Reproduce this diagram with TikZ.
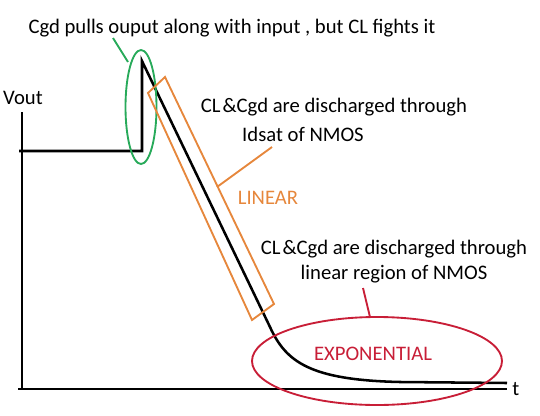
\documentclass[tikz,border=0pt]{standalone}
\usepackage{fontspec}
\setmainfont{Carlito}
\usetikzlibrary{shapes.geometric}
\definecolor{cgreen}{RGB}{40,170,90}
\definecolor{corange}{RGB}{230,135,60}
\definecolor{cred}{RGB}{200,30,55}
\begin{document}
\begin{tikzpicture}[x=0.75pt,y=-0.75pt,
  txt/.style={font=\fontsize{15.5}{18.75}\selectfont, inner sep=0pt, text=black},
  blk/.style={draw=black, line width=1.9pt},
  gline/.style={draw=cgreen, line width=1.4pt},
  oline/.style={draw=corange, line width=1.4pt},
  rline/.style={draw=cred, line width=1.4pt}]
\useasboundingbox (0,0) rectangle (540,415);
% axes
\coordinate (ytop) at (22,112);
\coordinate (ybot) at (22,390);
\coordinate (xl) at (18,389);
\coordinate (xr) at (507,389);
\draw[blk] (ytop) -- (ybot);
\draw[blk] (xl) -- (xr);
\node[txt, anchor=west] (t) at (512,389) {t};
\node[txt] (vout) at (23,98) {Vout};
% signal
\coordinate (s0) at (19,151);
\coordinate (s1) at (142,151);
\coordinate (s2) at (142,61);
\coordinate (s3) at (270,327);
\coordinate (s4) at (400,382);
\coordinate (s5) at (507,383);
\draw[blk, line join=miter] (s0) -- (s1) -- (s2) -- (s3) .. controls (286,362) and (310,380) .. (s4) -- (s5);
% green ellipse
\node[ellipse, gline, minimum width=31*0.75pt, minimum height=114*0.75pt, inner sep=0pt] (ge) at (141,107) {};
\node[txt] (gtext) at (232,28) {Cgd pulls ouput along with input , but CL fights it};
\coordinate (g1) at (113,38);
\coordinate (g2) at (128,62);
\draw[gline] (g1) -- (g2);
% orange rectangle
\coordinate (o1) at (148,93);
\coordinate (o2) at (165,77);
\coordinate (o3) at (274,304);
\coordinate (o4) at (252,320);
\draw[oline, line join=miter] (o1) -- (o2) -- (o3) -- (o4) -- cycle;
\coordinate (oa) at (217,187);
\coordinate (ob) at (272,147);
\draw[oline] (oa) -- (ob);
\node[txt, text=corange] (lin) at (268,198) {LINEAR};
\node[txt] (d1) at (334,107) {CL\kern1.5pt\&Cgd are discharged through};
\node[txt] (d2) at (303,134) {Idsat of NMOS};
% red ellipse
\node[ellipse, rline, minimum width=250*0.75pt, minimum height=88*0.75pt, inner sep=0pt] (re) at (377,361) {};
\node[txt, text=cred] (exp) at (373,354) {EXPONENTIAL};
\node[txt, align=center] (d3) at (394,262) {CL\kern1.5pt\&Cgd are discharged through\\linear region of NMOS};
\coordinate (r1) at (363,288);
\coordinate (r2) at (370,317);
\draw[rline] (r1) -- (r2);
\end{tikzpicture}
\end{document}
